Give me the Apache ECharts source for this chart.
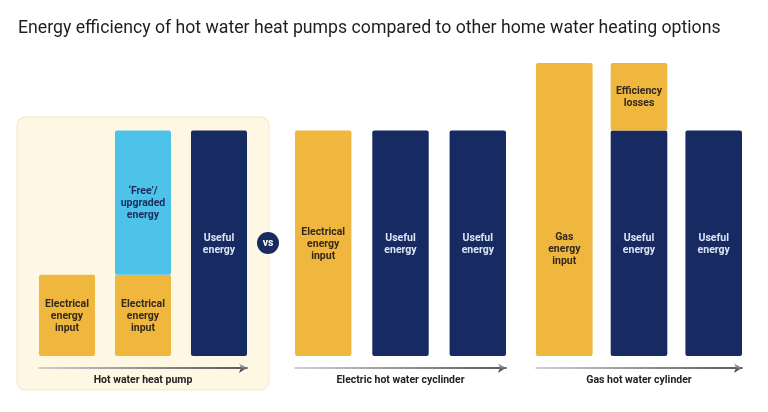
<!DOCTYPE html>
<html>
<head>
<meta charset="utf-8">
<script src="https://cdn.jsdelivr.net/npm/echarts@6/dist/echarts.min.js"></script>
<style>
  html, body { margin: 0; background: #fff; }
  #main { width: 768px; height: 412px; }
</style>
</head>
<body>
<div id="main"></div>
<script>
// groups along the bottom (one small grid each)
var groups = ['Hot water heat pump', 'Electric hot water cyclinder', 'Gas hot water cylinder'];

// each column is a stack of segments, bottom first (useful energy = 100)
var pumpValues = [[36], [36, 64], [100]];
var pumpKinds = [['elec'], ['elec', 'free'], ['useful']];
var electricValues = [[100], [100], [100]];
var electricKinds = [['elec'], ['useful'], ['useful']];
var gasValues = [[130], [100, 30], [100]];
var gasKinds = [['gas'], ['useful', 'loss'], ['useful']];

var kindText = {
  elec: 'Electrical\nenergy\ninput',
  free: '\u2018Free\u2019/\nupgraded\nenergy',
  useful: 'Useful\nenergy',
  gas: 'Gas\nenergy\ninput',
  loss: 'Efficiency\nlosses'
};
var kindColor = { elec: '#efb73e', free: '#4ec3ea', useful: '#182a62', gas: '#efb73e', loss: '#efb73e' };
var kindTextColor = { elec: '#33291c', free: '#1b2b5c', useful: '#dde5f4', gas: '#33291c', loss: '#33291c' };

var groupValues = [pumpValues, electricValues, gasValues];
var groupKinds = [pumpKinds, electricKinds, gasKinds];

// where each group sits
var gridPos = [
  { left: 39, width: 208, gap: '35.7%' },
  { left: 295, width: 211, gap: '37%' },
  { left: 536, width: 206, gap: '32%' }
];

var chart = echarts.init(document.getElementById('main'));

var grid = [], xAxis = [], yAxis = [], series = [];
gridPos.forEach(function (p, g) {
  grid.push({ left: p.left, width: p.width, top: 63, bottom: 56, outerBoundsMode: 'none' });
  xAxis.push({
    type: 'category',
    gridIndex: g,
    data: [groups[g]],
    offset: 12,
    axisLine: {
      show: true,
      onZero: false,
      symbol: ['none', 'arrow'],
      symbolSize: [7, 8],
      lineStyle: {
        width: 1.5,
        color: new echarts.graphic.LinearGradient(0, 0, 1, 0, [
          { offset: 0, color: '#c4c4c4' },
          { offset: 1, color: '#222' }
        ])
      }
    },
    axisTick: { show: false },
    axisLabel: {
      margin: 7,
      color: '#222',
      fontFamily: 'Roboto',
      fontWeight: 'bold',
      fontSize: 10.5
    }
  });
  yAxis.push({ type: 'value', gridIndex: g, min: 0, max: 130, show: false, splitLine: { show: false } });
});

groupValues.forEach(function (cols, g) {
  cols.forEach(function (segs, c) {
    segs.forEach(function (v, s) {
      var kind = groupKinds[g][c][s];
      series.push({
        type: 'bar',
        xAxisIndex: g,
        yAxisIndex: g,
        stack: 'g' + g + 'c' + c,
        barGap: gridPos[g].gap,
        barCategoryGap: '0%',
        data: [v],
        itemStyle: { color: kindColor[kind], borderRadius: 2 },
        label: {
          show: true,
          position: 'inside',
          offset: kind == 'gas' ? [0, 40] : [0, 1],
          formatter: kindText[kind],
          color: kindTextColor[kind],
          fontFamily: 'Roboto',
          fontWeight: 'bold',
          fontSize: 10.5,
          lineHeight: 12
        },
        emphasis: { disabled: true }
      });
    });
  });
});

var option = {
  animation: false,
  title: {
    text: 'Energy efficiency of hot water heat pumps compared to other home water heating options',
    left: 13,
    top: 15,
    textStyle: { fontFamily: 'Roboto', fontSize: 17.7, fontWeight: 'normal', color: '#1f1f1f' }
  },
  grid: grid,
  xAxis: xAxis,
  yAxis: yAxis,
  series: series,
  graphic: [
    {
      type: 'rect',
      z: -10,
      shape: { x: 17, y: 117, width: 252, height: 273, r: 8 },
      style: { fill: '#fdf7e3', stroke: '#f3e8c4', lineWidth: 1 }
    },
    {
      type: 'circle',
      z: 100,
      shape: { cx: 268, cy: 243, r: 11 },
      style: { fill: '#182a62' }
    },
    {
      type: 'text',
      z: 101,
      x: 268,
      y: 243,
      style: { text: 'vs', fill: '#fff', font: 'bold 10.5px Roboto', align: 'center', verticalAlign: 'middle' }
    }
  ]
};

chart.setOption(option);
</script>
</body>
</html>
